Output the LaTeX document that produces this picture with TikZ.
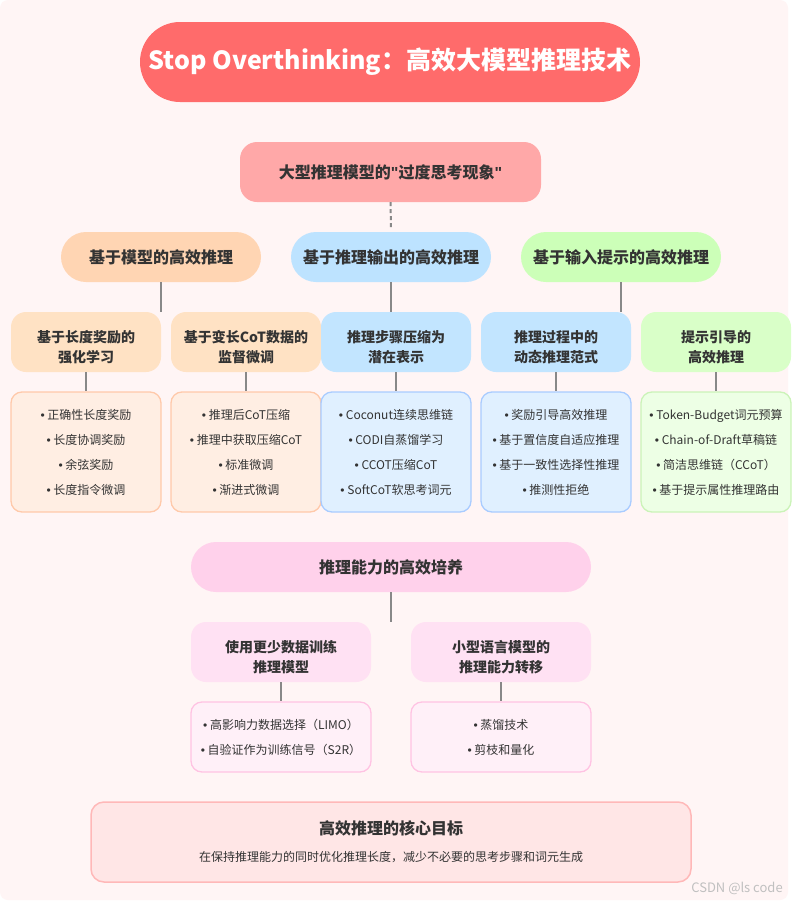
\documentclass[tikz,border=0pt]{standalone}
\usepackage{fontspec}
\setmainfont{Noto Sans CJK SC}
\newfontfamily\latinf{Liberation Sans}
\newcommand\itembul{{\latinf •}\ }
\newcommand\sq{{\latinf\bfseries\char"22}}
\usetikzlibrary{calc}
\definecolor{bgc}{HTML}{FFF5F5}
\definecolor{titlec}{HTML}{FF6B6B}
\definecolor{probc}{HTML}{FFA8A8}
\definecolor{txt}{HTML}{333333}
\definecolor{linec}{HTML}{888888}
\definecolor{aone}{HTML}{FFD5B3}
\definecolor{atwo}{HTML}{FFE2C4}
\definecolor{athree}{HTML}{FFEEE3}
\definecolor{aborder}{HTML}{FFC9AA}
\definecolor{bone}{HTML}{BDE3FF}
\definecolor{btwo}{HTML}{C2E5FF}
\definecolor{bthree}{HTML}{E0F0FF}
\definecolor{bborder}{HTML}{A9CCFF}
\definecolor{cone}{HTML}{CCFFB8}
\definecolor{ctwo}{HTML}{D9FFC8}
\definecolor{cthree}{HTML}{EDFFE5}
\definecolor{cborder}{HTML}{CBF3B8}
\definecolor{done}{HTML}{FFD1EB}
\definecolor{dtwo}{HTML}{FFE1F3}
\definecolor{dthree}{HTML}{FFF0F8}
\definecolor{dborder}{HTML}{FFC3E3}
\definecolor{goalfill}{HTML}{FFE6E6}
\definecolor{goalborder}{HTML}{FFB8B8}
\definecolor{wmc}{HTML}{C0C0C0}
\tikzset{
  box/.style={rectangle, inner sep=0pt, align=center, text=txt},
  lone/.style={box, minimum width=200pt, minimum height=50pt, rounded corners=25pt, font=\fontsize{16}{20}\selectfont\bfseries},
  ltwo/.style={box, minimum width=150pt, minimum height=60pt, rounded corners=15pt},
  ltwotext/.style={box, font=\fontsize{14}{20}\selectfont\bfseries},
  lthree/.style={box, minimum width=150pt, minimum height=120pt, rounded corners=11pt, line width=1.3pt, font=\fontsize{12}{25}\selectfont},
  conn/.style={draw=linec, line width=2pt},
}
\begin{document}
\begin{tikzpicture}[x=1pt,y=-1pt]
\useasboundingbox (0,0) rectangle (792,902);
\fill[white] (0,0) rectangle (792,902);
\fill[bgc, rounded corners=8pt] (0,0) rectangle (788,900);

% title
\node[box, fill=titlec, minimum width=500pt, minimum height=80pt, rounded corners=40pt, text=white, font=\fontsize{25}{30}\selectfont\bfseries] (title) at (390,62) {Stop Overthinking：高效大模型推理技术};

% problem
\node[box, fill=probc, minimum width=301pt, minimum height=60pt, rounded corners=17pt, font=\fontsize{16}{20}\selectfont\bfseries] (prob) at (390.5,172) {大型推理模型的\sq 过度思考现象\sq};
\coordinate (pend) at (391,229);
\draw[draw=linec, line width=2pt, dash pattern=on 4pt off 3pt] (prob.south) -- (pend);

% level 1
\node[lone, fill=aone] (a) at (161,257) {基于模型的高效推理};
\node[lone, fill=bone] (b) at (391,257) {基于推理输出的高效推理};
\node[lone, fill=cone] (c) at (621,257) {基于输入提示的高效推理};

% level 2
\node[ltwo, fill=atwo] (a1) at (86,342) {};
\node[ltwo, fill=atwo] (a2) at (246,342) {};
\node[ltwo, fill=btwo] (b1) at (396,342) {};
\node[ltwo, fill=btwo] (b2) at (556,342) {};
\node[ltwo, fill=ctwo] (c1) at (716,342) {};
\node[ltwotext] (a1t) at (86,347) {基于长度奖励的\\强化学习};
\node[ltwotext] (a2t) at (246,347) {基于变长CoT数据的\\监督微调};
\node[ltwotext] (b1t) at (396,347) {推理步骤压缩为\\潜在表示};
\node[ltwotext] (b2t) at (556,347) {推理过程中的\\动态推理范式};
\node[ltwotext] (c1t) at (716,347) {提示引导的\\高效推理};

\draw[conn] (a.south) -- (a.south |- a1.north);
\draw[conn] (b.south) -- (b.south |- b1.north);
\draw[conn] (c.south) -- (c.south |- c1.north);

% level 3
\node[lthree, fill=athree, draw=aborder] (a1l) at (86,452) {\itembul 正确性长度奖励\\\itembul 长度协调奖励\\\itembul 余弦奖励\\\itembul 长度指令微调};
\node[lthree, fill=athree, draw=aborder] (a2l) at (246,452) {\itembul 推理后CoT压缩\\\itembul 推理中获取压缩CoT\\\itembul 标准微调\\\itembul 渐进式微调};
\node[lthree, fill=bthree, draw=bborder] (b1l) at (396,452) {\itembul Coconut连续思维链\\\itembul CODI自蒸馏学习\\\itembul CCOT压缩CoT\\\itembul SoftCoT软思考词元};
\node[lthree, fill=bthree, draw=bborder] (b2l) at (556,452) {\itembul 奖励引导高效推理\\\itembul 基于置信度自适应推理\\\itembul 基于一致性选择性推理\\\itembul 推测性拒绝};
\node[lthree, fill=cthree, draw=cborder] (c1l) at (716,452) {\itembul Token-Budget词元预算\\\itembul Chain-of-Draft草稿链\\\itembul 简洁思维链（CCoT）\\\itembul 基于提示属性推理路由};

\draw[conn] (a1.south) -- (a1l.north);
\draw[conn] (a2.south) -- (a2l.north);
\draw[conn] (b1.south) -- (b1l.north);
\draw[conn] (b2.south) -- (b2l.north);
\draw[conn] (c1.south) -- (c1l.north);

% training section
\node[lone, fill=done, minimum width=400pt] (d) at (391,567) {推理能力的高效培养};
\node[ltwo, fill=dtwo, minimum width=180pt] (d1) at (281,652) {};
\node[ltwo, fill=dtwo, minimum width=180pt] (d2) at (501,652) {};
\node[ltwotext] (d1t) at (281,657) {使用更少数据训练\\推理模型};
\node[ltwotext] (d2t) at (501,657) {小型语言模型的\\推理能力转移};
\draw[conn] (d.south) -- (d.south |- d1.north);
\node[lthree, fill=dthree, draw=dborder, minimum width=180pt, minimum height=70pt] (d1l) at (281,737) {\itembul 高影响力数据选择（LIMO）\\\itembul 自验证作为训练信号（S2R）};
\node[lthree, fill=dthree, draw=dborder, minimum width=180pt, minimum height=70pt] (d2l) at (501,737) {\itembul 蒸馏技术\\\itembul 剪枝和量化};
\draw[conn] (d1.south) -- (d1l.north);
\draw[conn] (d2.south) -- (d2l.north);

% goal
\node[box, fill=goalfill, draw=goalborder, line width=1.5pt, minimum width=600pt, minimum height=80pt, rounded corners=13pt] (goal) at (391,842) {};
\node[box, font=\fontsize{16}{20}\selectfont\bfseries] (goalt) at (391,828) {高效推理的核心目标};
\node[box, font=\fontsize{12}{15}\selectfont] (goals) at (391,857) {在保持推理能力的同时优化推理长度，减少不必要的思考步骤和词元生成};

% watermark
\node[box, text=wmc, font=\fontsize{13}{15}\selectfont] (wm) at (737,888) {CSDN @ls code};
\end{tikzpicture}
\end{document}
